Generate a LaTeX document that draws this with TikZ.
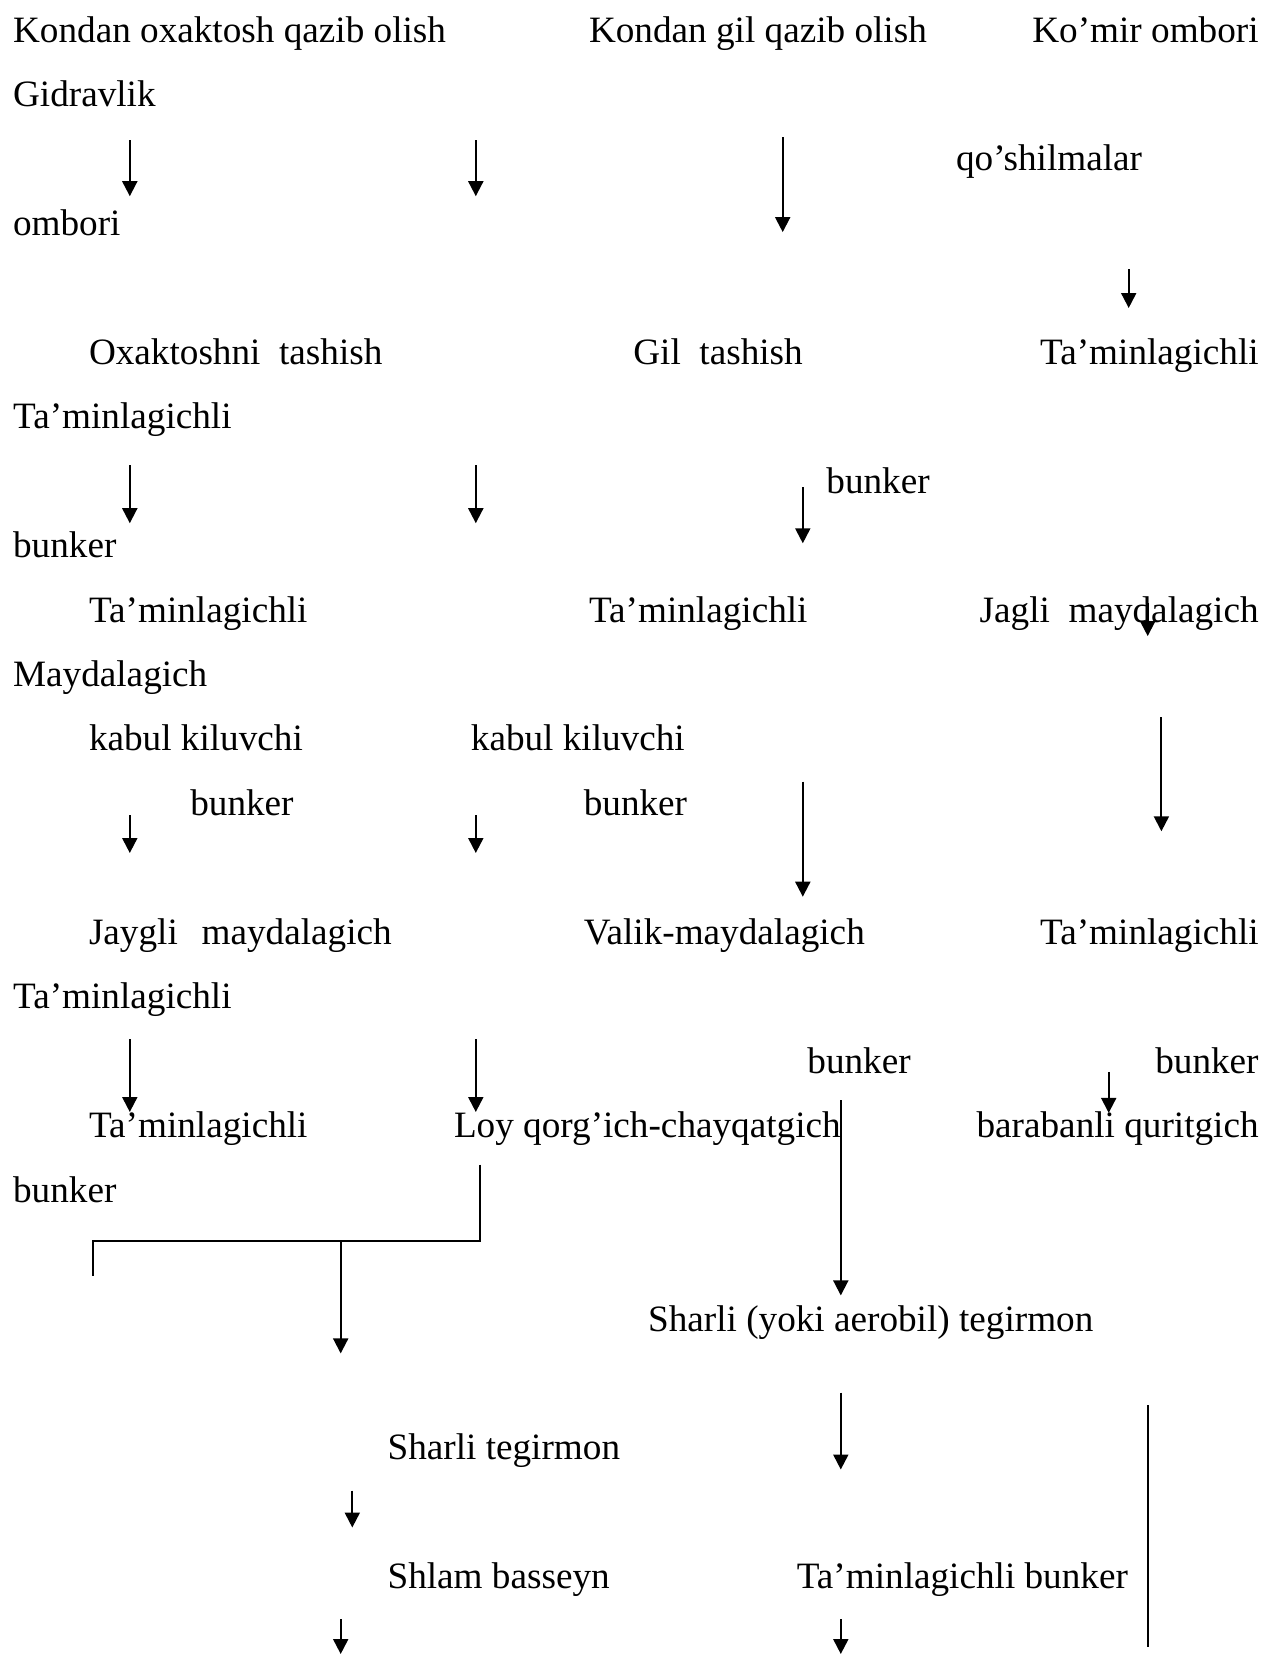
\documentclass[tikz,border=0pt]{standalone}
\usepackage{fontspec}
\setmainfont{Liberation Serif}
\usetikzlibrary{arrows.meta}

\tikzset{
    lbl/.style={inner sep=0pt, anchor=base west, font=\fontsize{18.6}{22}\selectfont},
    lblr/.style={lbl, anchor=base east},
    flow/.style={line width=1pt, -{Triangle[width=7.5pt,length=7.5pt]}},
    pipe/.style={line width=1pt}
}

\begin{document}
\begin{tikzpicture}[x=0.5pt,y=-0.5pt]
            \useasboundingbox (0,0) rectangle (1267,1654);
            % first lines
            \node[lbl] (oxqazib) at (12.7,42) {Kondan oxaktosh qazib olish};
            \node[lbl] (gilqazib) at (588.6,42) {Kondan gil qazib olish};
            \node[lblr] (komir) at (1259,42) {Ko’mir ombori};
            \node[lbl] (gidrav) at (12.7,106.45) {Gidravlik};
            \node[lbl] (qoshil) at (955.7,170.9) {qo’shilmalar};
            \node[lbl] (ombori) at (12.7,235.35) {ombori};
            % transport
            \node[lbl] (oxtash) at (88.6,364.25) {Oxaktoshni\ \ tashish};
            \node[lbl] (giltash) at (632.9,364.25) {Gil\ \ tashish};
            \node[lblr] (tamA) at (1259,364.25) {Ta’minlagichli};
            \node[lbl] (tamB) at (12.7,428.7) {Ta’minlagichli};
            \node[lbl] (bunkA) at (826,493.15) {bunker};
            \node[lbl] (bunkB) at (12.7,557.6) {bunker};
            % receiving bunkers
            \node[lbl] (tamC) at (88.6,622.05) {Ta’minlagichli};
            \node[lbl] (tamD) at (588.6,622.05) {Ta’minlagichli};
            \node[lblr] (jagli) at (1259,622.05) {Jagli\ \ maydalagich};
            \node[lbl] (maydal) at (12.7,686.5) {Maydalagich};
            \node[lbl] (kabulA) at (88.6,750.95) {kabul kiluvchi};
            \node[lbl] (kabulB) at (470.5,750.95) {kabul kiluvchi};
            \node[lbl] (bunkC) at (189.9,815.4) {bunker};
            \node[lbl] (bunkD) at (583.4,815.4) {bunker};
            % crushers
            \node[lbl] (jaygli) at (88.6,944.3) {Jaygli\hspace{0.64em}maydalagich};
            \node[lbl] (valik) at (583.4,944.3) {Valik-maydalagich};
            \node[lblr] (tamE) at (1259,944.3) {Ta’minlagichli};
            \node[lbl] (tamF) at (12.7,1008.75) {Ta’minlagichli};
            \node[lbl] (bunkE) at (807,1073.2) {bunker};
            \node[lblr] (bunkF) at (1259,1073.2) {bunker};
            \node[lbl] (tamG) at (88.6,1137.65) {Ta’minlagichli};
            \node[lbl] (loy) at (453.6,1137.65) {Loy qorg’ich-chayqatgich};
            \node[lblr] (baraban) at (1259,1137.65) {barabanli quritgich};
            \node[lbl] (bunkG) at (12.7,1202.1) {bunker};
            % mills
            \node[lbl] (sharliA) at (647.7,1331) {Sharli (yoki aerobil) tegirmon};
            \node[lbl] (sharliB) at (387.2,1459.9) {Sharli tegirmon};
            \node[lbl] (shlam) at (387.2,1588.8) {Shlam basseyn};
            \node[lbl] (tamH) at (796.4,1588.8) {Ta’minlagichli bunker};
            % arrows
            \foreach \x/\ya/\yb [count=\i] in {129.8/140.3/196.2, 475.8/140.3/196.2, 782.7/137.1/232.1,
                1128.7/269/308, 129.8/465.2/523.2, 475.8/465.2/523.2, 802.8/487.4/543.3,
                1147.7/603.4/636.1, 1161.4/717.3/831.3, 129.8/815/853, 475.8/815/853,
                802.8/781.7/896.7, 129.8/1039/1112, 475.8/1039/1112, 1108.7/1071.8/1112.9,
                840.8/1100.3/1295.4, 840.8/1392.5/1469.5, 352.3/1490.6/1527.5,
                340.7/1619/1654, 840.8/1619/1654}{
                \coordinate (s\i) at (\x,\ya);
                \coordinate (e\i) at (\x,\yb);
                \draw[flow] (s\i) -- (e\i);
            }
            % joining the two slurries
            \coordinate (loyd) at (480,1164.6);
            \coordinate (jr) at (480,1240.6);
            \coordinate (jl) at (92.8,1240.6);
            \coordinate (jld) at (92.8,1276);
            \coordinate (jm) at (340.7,1240.6);
            \coordinate (jmd) at (340.7,1353.4);
            \draw[pipe] (loyd) -- (jr) -- (jl) -- (jld);
            \draw[flow] (jm) -- (jmd);
            \coordinate (vt) at (1147.7,1405);
            \coordinate (vb) at (1147.7,1647);
            \draw[pipe] (vt) -- (vb);
        \end{tikzpicture}
\end{document}
